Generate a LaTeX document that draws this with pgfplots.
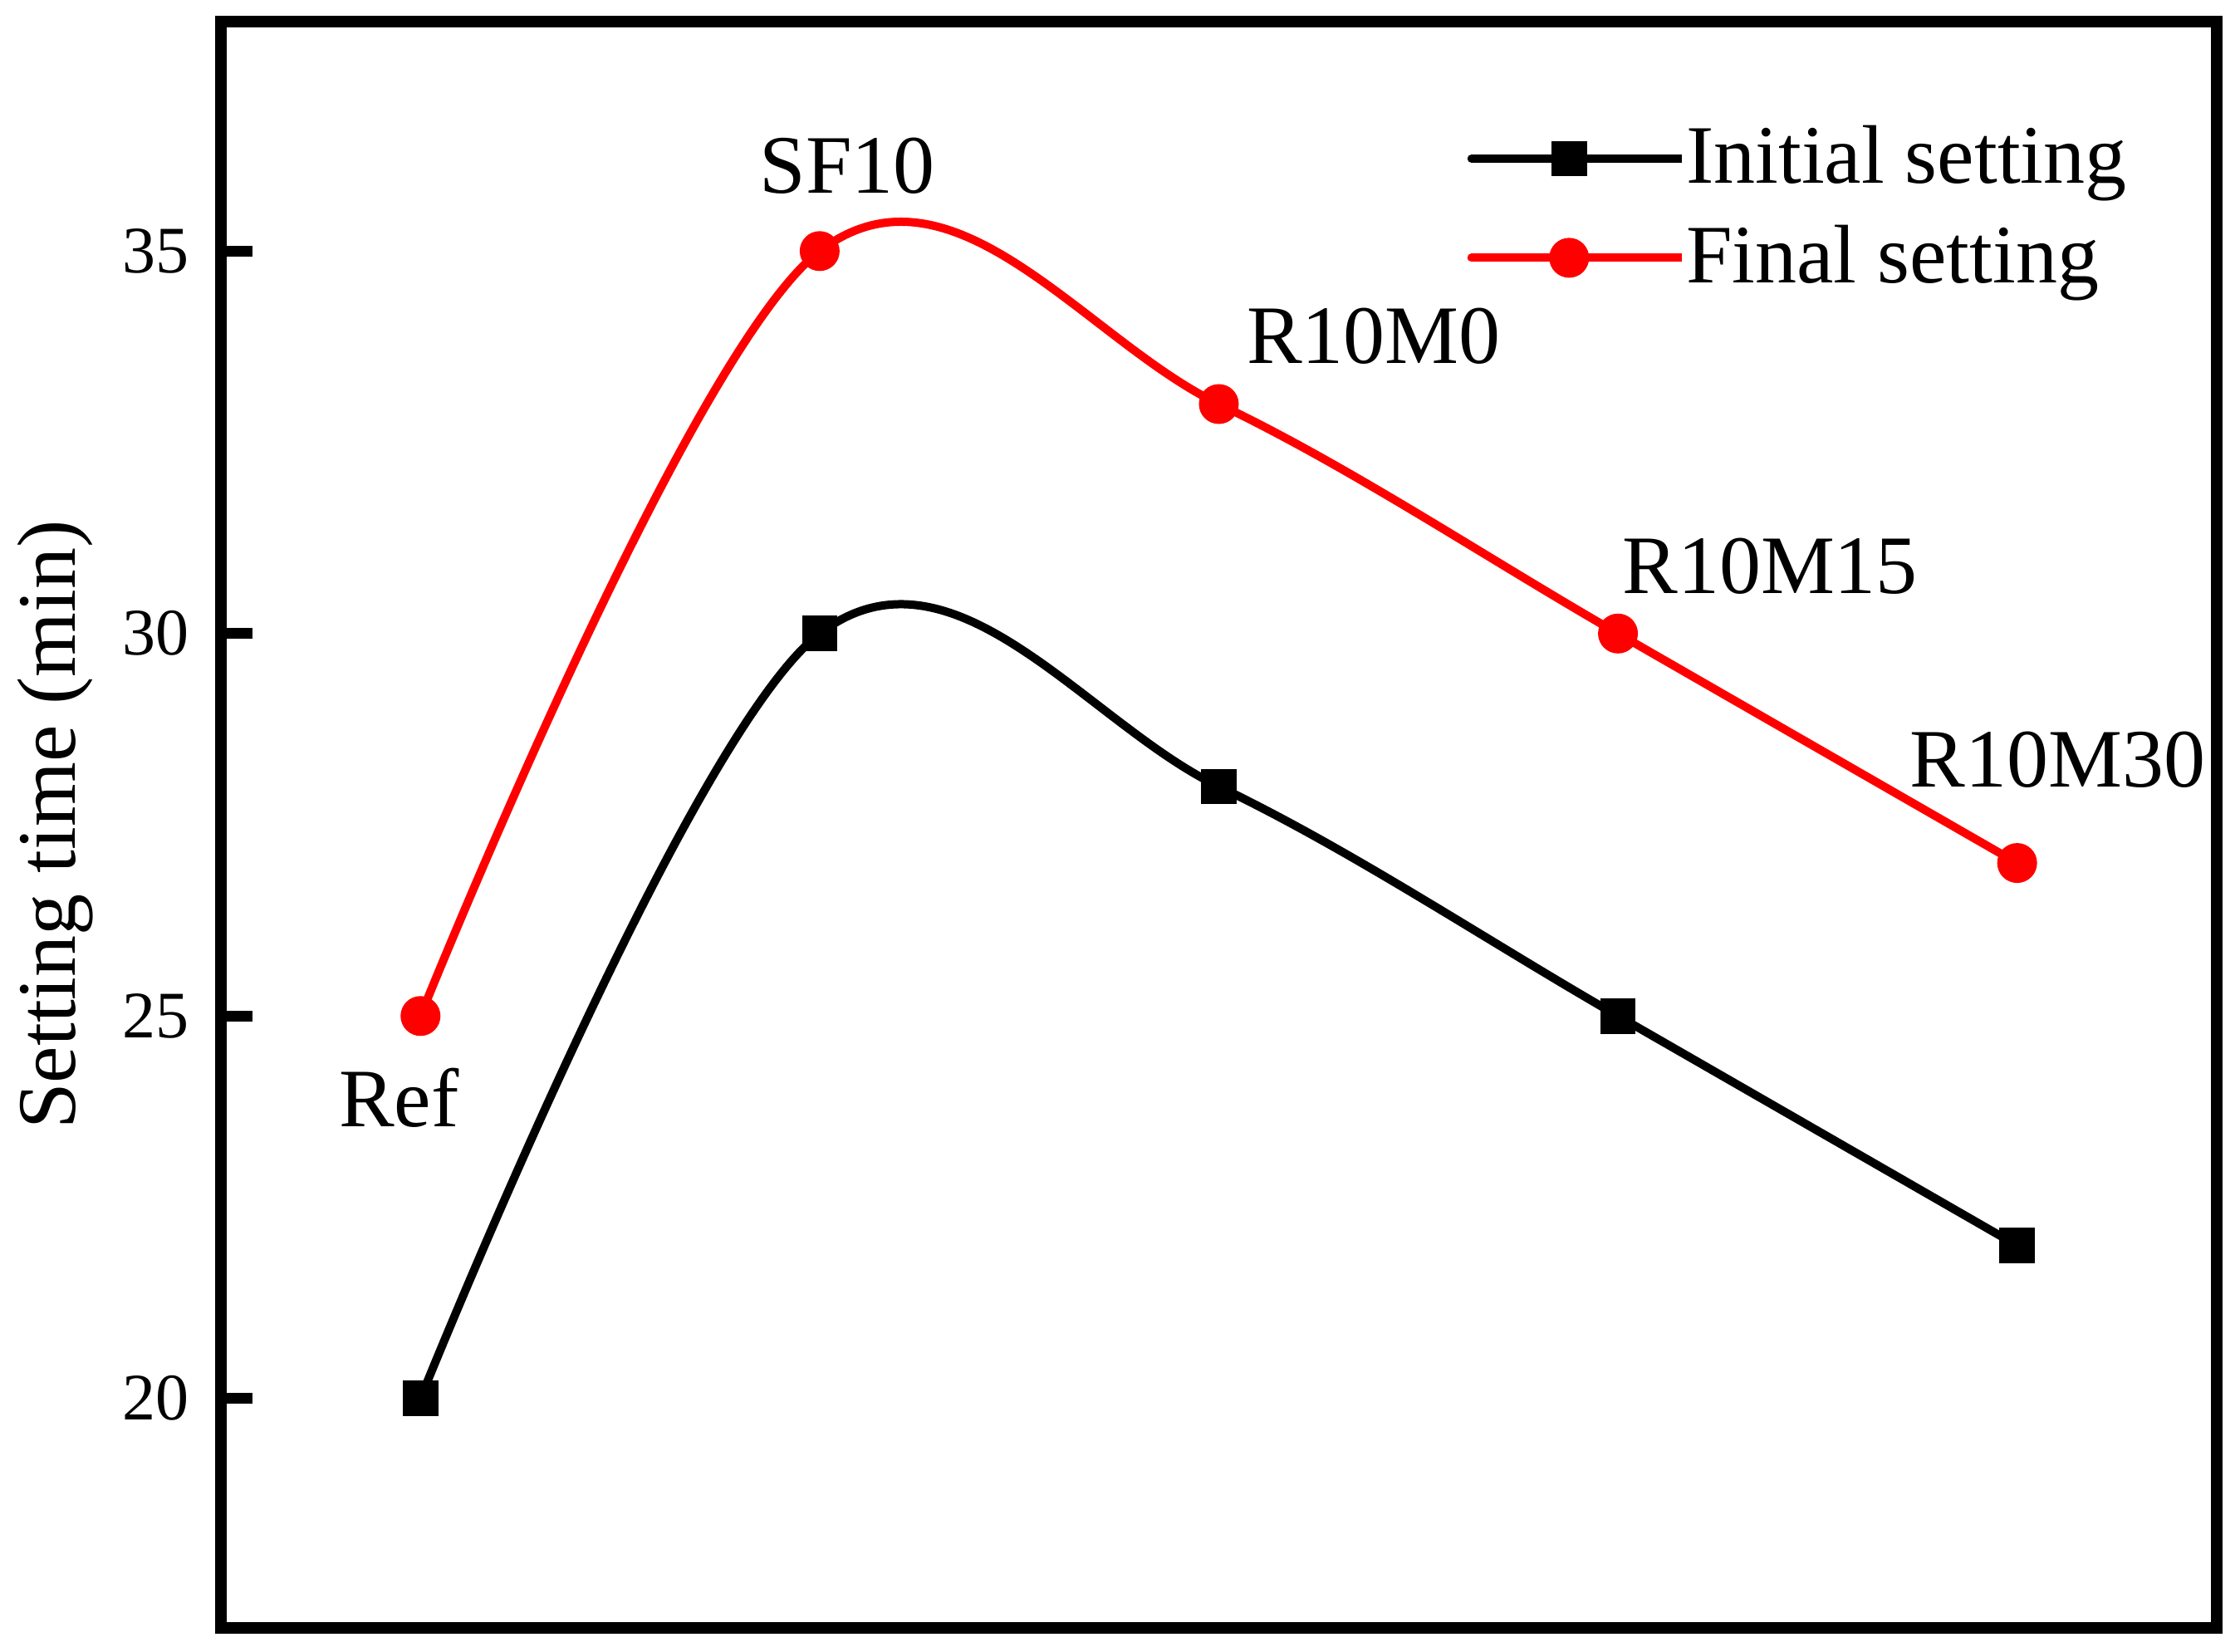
\documentclass[border=0pt]{standalone}
\usepackage{fontspec}
\setmainfont{Liberation Serif}
\usepackage{pgfplots}
\pgfplotsset{compat=1.18}
\begin{document}
\begin{tikzpicture}
\path[use as bounding box] (-39.9pt,-4.2pt) rectangle (364.65pt,294pt);
\begin{axis}[
  scale only axis, width=360.45pt, height=290.1pt,
  at={(0pt,0pt)}, anchor=south west,
  xmin=0.5, xmax=5.5, ymin=17, ymax=38,
  xtick=\empty, ytick={20,25,30,35},
  axis line style={line width=2.1pt},
  tick style={line width=2pt, black},
  major tick length=5.7pt,
  tick align=inside,
  ytick pos=left,
  clip=false,
  /pgf/number format/assume math mode=true,
  yticklabel style={font=\fontsize{12}{14}\selectfont, xshift=-2.3pt},
  ylabel={Setting time (min)},
  ylabel style={font=\fontsize{15}{18}\selectfont, at={(axis description cs:-0.073,0.5)}, anchor=base},
  legend style={draw=none, fill=none, at={(axis description cs:0.624,0.9359)}, anchor=north west,
    inner sep=0pt, row sep=6.0pt, font=\fontsize{15}{18}\selectfont, nodes={inner sep=0pt}},
  legend cell align=left,
  legend image code/.code={%
    \draw[#1, mark=none, line cap=round] (0pt,0pt) -- (13.05pt,0pt) (22.05pt,0pt) -- (35.25pt,0pt);
    \draw[#1] plot coordinates {(17.625pt,0pt)};
    \path (0pt,0pt) -- (38pt,0pt);},
]
\addplot[black, line width=1.5pt, smooth, tension=0.6, mark=square*, mark size=3.0pt, mark options={solid, line width=0.4pt}]
  coordinates {(1,20) (2,30) (3,28) (4,25) (5,22)};
\addlegendentry{Initial setting}
\addplot[red, line width=1.5pt, smooth, tension=0.6, mark=*, mark size=3.4pt, mark options={solid, line width=0.4pt}]
  coordinates {(1,25) (2,35) (3,33) (4,30) (5,27)};
\addlegendentry{Final setting}
\node[anchor=base, font=\fontsize{15}{18}\selectfont] at (axis cs:0.946,23.55) {Ref};
\node[anchor=base, font=\fontsize{15}{18}\selectfont] at (axis cs:2.069,35.76) {SF10};
\node[anchor=base, font=\fontsize{15}{18}\selectfont] at (axis cs:3.388,33.53) {R10M0};
\node[anchor=base, font=\fontsize{15}{18}\selectfont] at (axis cs:4.381,30.52) {R10M15};
\node[anchor=base, font=\fontsize{15}{18}\selectfont] at (axis cs:5.102,27.99) {R10M30};
\end{axis}
\end{tikzpicture}
\end{document}
